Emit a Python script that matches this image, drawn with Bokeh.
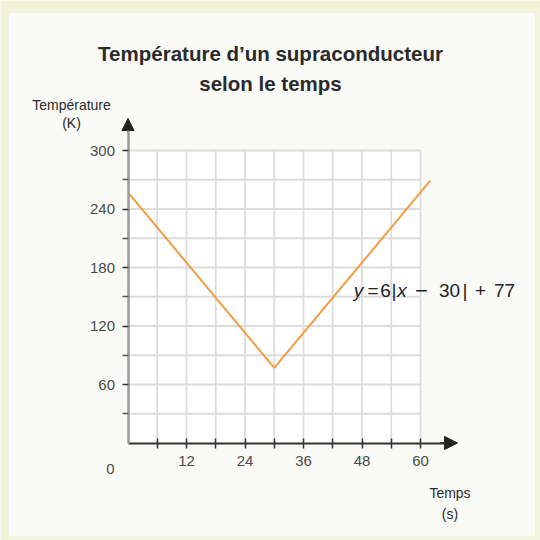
from bokeh.plotting import figure
from bokeh.models import Label, FixedTicker, Arrow, NormalHead, Range1d, BoxAnnotation
from bokeh.embed import file_html
from bokeh.resources import INLINE

# ---- data ----
time_s = [0, 30, 62]
temp_k = [257, 77, 269]

x_major = [12, 24, 36, 48, 60]
x_minor = [6, 18, 30, 42, 54]
y_major = [60, 120, 180, 240, 300]
y_minor = [30, 90, 150, 210, 270]
x_grid = [6, 12, 18, 24, 30, 36, 42, 48, 54, 60]
y_grid = [30, 60, 90, 120, 150, 180, 210, 240, 270, 300]

title_lines = ["Température d’un supraconducteur", "selon le temps"]
y_title = ["Température", "(K)"]
x_title = ["Temps", "(s)"]

SANS = "Liberation Sans, Arial, sans-serif"
PANEL = "#fafaf7"
OUTER = "#f2f4da"

W = H = 540
# pixel <-> data mapping of the frame (frame covers the whole canvas)
X0_PX, XSCALE = 127.5, 4.875
Y0_PX, YSCALE = 442.5, 0.975


def X(px):
    return (px - X0_PX) / XSCALE


def Y(py):
    return (Y0_PX - py) / YSCALE


p = figure(width=W, height=H, output_backend="svg", toolbar_location=None,
           title=None,
           x_range=Range1d(X(0), X(W)), y_range=Range1d(Y(H), Y(0)),
           min_border=0, min_border_left=0, min_border_right=0,
           min_border_top=0, min_border_bottom=0,
           background_fill_color=OUTER, border_fill_color=OUTER,
           outline_line_color=None)
p.grid.visible = False

# panel
p.add_layout(BoxAnnotation(left=X(8), right=X(535), top=Y(12), bottom=Y(536),
                           fill_color=PANEL, fill_alpha=1.0,
                           line_color="#e6e6de", line_width=1.2, level="underlay"))

# white grid area
gx0, gx1 = 0, max(x_grid)
gy0, gy1 = 0, max(y_grid)
p.quad(left=[gx0], right=[gx1], bottom=[gy0], top=[gy1],
       fill_color="white", line_color=None)
p.segment(x0=x_grid, y0=[gy0] * len(x_grid), x1=x_grid, y1=[gy1] * len(x_grid),
          line_color="#dcdcdc", line_width=1.8)
p.segment(x0=[gx0] * len(y_grid), y0=y_grid, x1=[gx1] * len(y_grid), y1=y_grid,
          line_color="#dcdcdc", line_width=1.8)

# data line
p.line(time_s, temp_k, line_color="#f59c40", line_width=2)

# axes
xa = p.xaxis[0]
xa.fixed_location = 0
xa.ticker = FixedTicker(ticks=x_major, minor_ticks=x_minor)
xa.bounds = (0, 66)
xa.axis_line_color = "#333333"
xa.axis_line_width = 2
xa.major_tick_in = 5
xa.major_tick_out = 5
xa.minor_tick_in = 5
xa.minor_tick_out = 5
xa.major_tick_line_color = "#333333"
xa.minor_tick_line_color = "#333333"
xa.major_tick_line_width = 1.5
xa.minor_tick_line_width = 1.5
xa.major_label_standoff = 8
xa.major_label_text_font = SANS
xa.major_label_text_font_size = "15px"
xa.major_label_text_color = "#4a4a4a"

ya = p.yaxis[0]
ya.fixed_location = 0
ya.ticker = FixedTicker(ticks=y_major, minor_ticks=y_minor)
ya.bounds = (0, 325)
ya.axis_line_color = "#9a9a9a"
ya.axis_line_width = 2.5
ya.major_tick_in = 0
ya.major_tick_out = 6
ya.minor_tick_in = 0
ya.minor_tick_out = 6
ya.major_tick_line_color = "#333333"
ya.minor_tick_line_color = "#555555"
ya.major_tick_line_width = 1.5
ya.minor_tick_line_width = 1.5
ya.major_label_standoff = 7
ya.major_label_text_font = SANS
ya.major_label_text_font_size = "15px"
ya.major_label_text_color = "#4a4a4a"

p.add_layout(Arrow(end=NormalHead(size=13, fill_color="#222222", line_color="#222222"),
                   x_start=64, y_start=0, x_end=X(457), y_end=0,
                   line_color="#333333", line_width=2))
p.add_layout(Arrow(end=NormalHead(size=12, fill_color="#222222", line_color="#222222"),
                   x_start=0, y_start=318, x_end=0, y_end=Y(118),
                   line_color="#9a9a9a", line_width=2.5))


def lab(px, py, text, size, font=SANS, align="center", style="normal", color="#222222"):
    p.add_layout(Label(x=X(px), y=Y(py), text=text, text_align=align,
                       text_baseline="alphabetic",
                       text_font=font, text_font_size=size, text_font_style=style,
                       text_color=color))


# title
lab(270, 52.5, title_lines[0], "20.5px", style="bold", color="#2a2a2a")
lab(270, 82.5, title_lines[1], "20.5px", style="bold", color="#2a2a2a")

# axis titles
lab(71, 104.5, y_title[0], "14px", color="#2a2a2a")
lab(71, 122, y_title[1], "14px", color="#2a2a2a")
lab(449.5, 492.5, x_title[0], "14px", color="#2a2a2a")
lab(449.5, 513, x_title[1], "14px", color="#2a2a2a")

# origin label
lab(110, 468.5, "0", "15px", color="#4a4a4a")

# equation
eq_base = 290
pieces = [("y", 358, "italic", "19px"), ("=", 372.5, "normal", "19px"),
          ("6", 385, "normal", "19px"), ("|", 393.5, "normal", "19px"),
          ("x", 401.5, "italic", "19px"), ("−", 421, "normal", "22px"),
          ("30", 449, "normal", "19px"), ("|", 464.5, "normal", "19px"),
          ("+", 480, "normal", "19px"), ("77", 504, "normal", "19px")]
for t, px, st, sz in pieces:
    lab(px, eq_base, t, sz, style=st)

html = file_html(p, INLINE)
open("out.html", "w").write(html)
